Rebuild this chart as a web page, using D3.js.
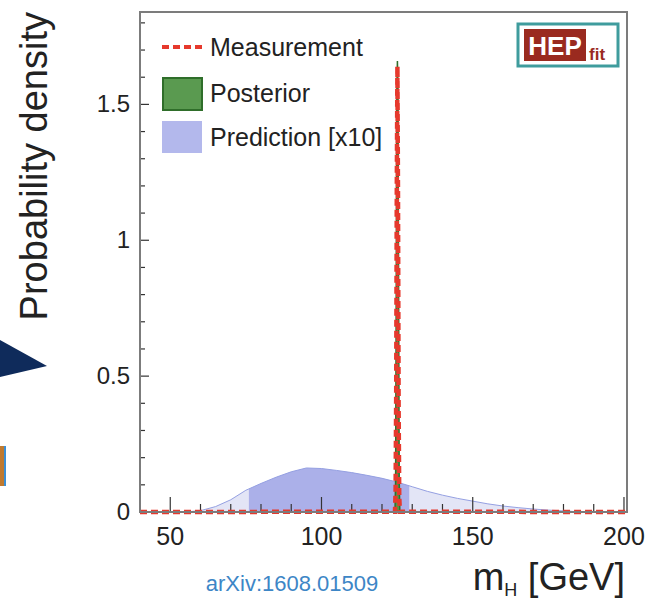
<!DOCTYPE html>
<html><head><meta charset="utf-8">
<script src="https://cdn.jsdelivr.net/npm/d3@7"></script>
<style>html,body{margin:0;padding:0;background:#fff;}svg{display:block;font-family:"Liberation Sans",Arial,sans-serif;}</style>
</head><body>
<svg id="c" width="648" height="600"></svg>
<script>
// ---- data ----
const xTicksMajor = [50, 100, 150, 200];
const yTicksMajor = [0, 0.5, 1, 1.5];
const yTickLabels = ["0", "0.5", "1", "1.5"];
// Prediction (density x10), m_H in GeV
const predMass = [55, 60, 65, 70, 75, 80, 85, 90, 95, 100, 105, 110, 115, 120, 125, 130, 135, 140, 145, 150, 155, 160, 165, 170, 175, 180, 185];
const predDens = [0, 0.005, 0.02, 0.045, 0.08, 0.105, 0.128, 0.148, 0.162, 0.160, 0.153, 0.145, 0.135, 0.124, 0.110, 0.093, 0.076, 0.062, 0.050, 0.040, 0.030, 0.022, 0.016, 0.011, 0.007, 0.004, 0.001];
const predInterval = [76, 129];
// Posterior
const postMass = [124.3, 124.5, 124.7, 124.9, 125.1, 125.3, 125.5, 125.7, 125.9];
const postDens = [0.0, 0.12, 0.82, 1.55, 1.66, 1.55, 0.82, 0.12, 0.0];
// Measurement
const measMass = [40, 124.3, 124.5, 124.7, 124.9, 125.1, 125.3, 125.5, 125.7, 125.9, 201];
const measDens = [0, 0.001, 0.08, 0.44, 1.2, 1.64, 1.14, 0.38, 0.06, 0.001, 0];
const legendLabels = ["Measurement", "Posterior", "Prediction [x10]"];

// ---- scales ----
const svg = d3.select("#c");
const x = d3.scaleLinear().domain([40, 201]).range([140, 627]);
const y = d3.scaleLinear().domain([0, 1.84]).range([512, 12]);

const RED = "#e6392d";

// left decorations (cropped slide elements)
svg.append("polygon").attr("points", "0,340 47,366 0,377").attr("fill", "#0f2b5b");
svg.append("rect").attr("x", 0).attr("y", 446).attr("width", 4).attr("height", 40).attr("fill", "#c07a30");
svg.append("rect").attr("x", 4).attr("y", 446).attr("width", 2).attr("height", 40).attr("fill", "#3b8fd6");

// clip
svg.append("clipPath").attr("id", "plot").append("rect")
  .attr("x", x(40)).attr("y", y(1.84)).attr("width", x(201) - x(40)).attr("height", y(0) - y(1.84));
svg.append("clipPath").attr("id", "inner").append("rect")
  .attr("x", x(predInterval[0])).attr("y", y(1.84)).attr("width", x(predInterval[1]) - x(predInterval[0])).attr("height", y(0) - y(1.84));

const g = svg.append("g").attr("clip-path", "url(#plot)");
const pred = predMass.map((m, i) => ({m, v: predDens[i]}));
const area = d3.area().x(d => x(d.m)).y0(y(0)).y1(d => y(d.v));
const line = d3.line().x(d => x(d.m)).y(d => y(d.v));
g.append("path").datum(pred).attr("d", area).attr("fill", "#e3e5f6");
g.append("path").datum(pred).attr("d", area).attr("fill", "#abb0e9").attr("clip-path", "url(#inner)");
g.append("path").datum(pred).attr("d", line).attr("fill", "none").attr("stroke", "#95a0e2").attr("stroke-width", 1);

// posterior
const post = postMass.map((m, i) => ({m, v: postDens[i]}));
g.append("path").datum(post).attr("d", area).attr("fill", "#4f9a45").attr("stroke", "#2f6e2a").attr("stroke-width", 1.5);

// ticks
const axG = svg.append("g").attr("stroke", "#333").attr("stroke-width", 1.2);
d3.range(50, 201, 10).forEach(v => {
  const major = xTicksMajor.includes(v);
  axG.append("line").attr("x1", x(v)).attr("x2", x(v)).attr("y1", y(0)).attr("y2", y(0) - (major ? 15 : 8));
});
d3.range(0, 19).map(i => i / 10).forEach(v => {
  const major = Math.abs(v * 2 - Math.round(v * 2)) < 1e-6;
  axG.append("line").attr("x1", x(40)).attr("x2", x(40) + (major ? 9 : 5)).attr("y1", y(v)).attr("y2", y(v));
});

// measurement
const meas = measMass.map((m, i) => ({m, v: measDens[i]}));
svg.append("path").datum(meas).attr("d", line).attr("fill", "none")
  .attr("stroke", RED).attr("stroke-width", 4.5).attr("stroke-dasharray", "7,4");

// frame
svg.append("rect").attr("x", x(40)).attr("y", y(1.84)).attr("width", x(201) - x(40)).attr("height", y(0) - y(1.84))
  .attr("fill", "none").attr("stroke", "#7c7c7c").attr("stroke-width", 2);

// tick labels
xTicksMajor.forEach(v => {
  svg.append("text").attr("x", x(v)).attr("y", 545).attr("text-anchor", "middle")
    .attr("font-size", 25).attr("fill", "#222").text(v);
});
yTicksMajor.forEach((v, i) => {
  svg.append("text").attr("x", 130).attr("y", y(v) + 8).attr("text-anchor", "end")
    .attr("font-size", 24).attr("fill", "#222").text(yTickLabels[i]);
});

// axis titles
svg.append("text").attr("transform", "translate(47,12) rotate(-90)").attr("text-anchor", "end")
  .attr("font-size", 38).attr("fill", "#222").text("Probability density");
const xt = svg.append("text").attr("x", 625).attr("y", 590).attr("text-anchor", "end").attr("font-size", 38).attr("fill", "#222");
xt.append("tspan").text("m");
xt.append("tspan").attr("font-size", 18).attr("dy", 6).text("H");
xt.append("tspan").attr("dy", -6).text(" [GeV]");

svg.append("text").attr("x", 292).attr("y", 591).attr("text-anchor", "middle").attr("font-size", 22)
  .attr("fill", "#3d86c6").text("arXiv:1608.01509");

// legend
const lg = svg.append("g");
lg.append("line").attr("x1", 162).attr("x2", 203).attr("y1", 47).attr("y2", 47)
  .attr("stroke", RED).attr("stroke-width", 4).attr("stroke-dasharray", "7,4");
lg.append("rect").attr("x", 163).attr("y", 78).attr("width", 39).attr("height", 32)
  .attr("fill", "#5a9a50").attr("stroke", "#2f6e2a").attr("stroke-width", 2);
lg.append("rect").attr("x", 162).attr("y", 121).attr("width", 40).attr("height", 32).attr("fill", "#b3b8ec");
legendLabels.forEach((t, i) => {
  lg.append("text").attr("x", 210).attr("y", [56, 102, 146][i]).attr("font-size", 25).attr("fill", "#222").text(t);
});

// HEPfit logo
const logo = svg.append("g");
logo.append("rect").attr("x", 518).attr("y", 24).attr("width", 100).attr("height", 42)
  .attr("fill", "#fff").attr("stroke", "#3f9c9d").attr("stroke-width", 3);
logo.append("rect").attr("x", 524).attr("y", 29).attr("width", 62).attr("height", 32).attr("fill", "#9a2a1f");
logo.append("text").attr("x", 555).attr("y", 55).attr("text-anchor", "middle").attr("font-size", 26)
  .attr("font-weight", "bold").attr("fill", "#fff").text("HEP");
logo.append("text").attr("x", 589).attr("y", 60).attr("font-size", 17)
  .attr("font-weight", "bold").attr("fill", "#9a2a1f").text("fit");
</script>
</body></html>
